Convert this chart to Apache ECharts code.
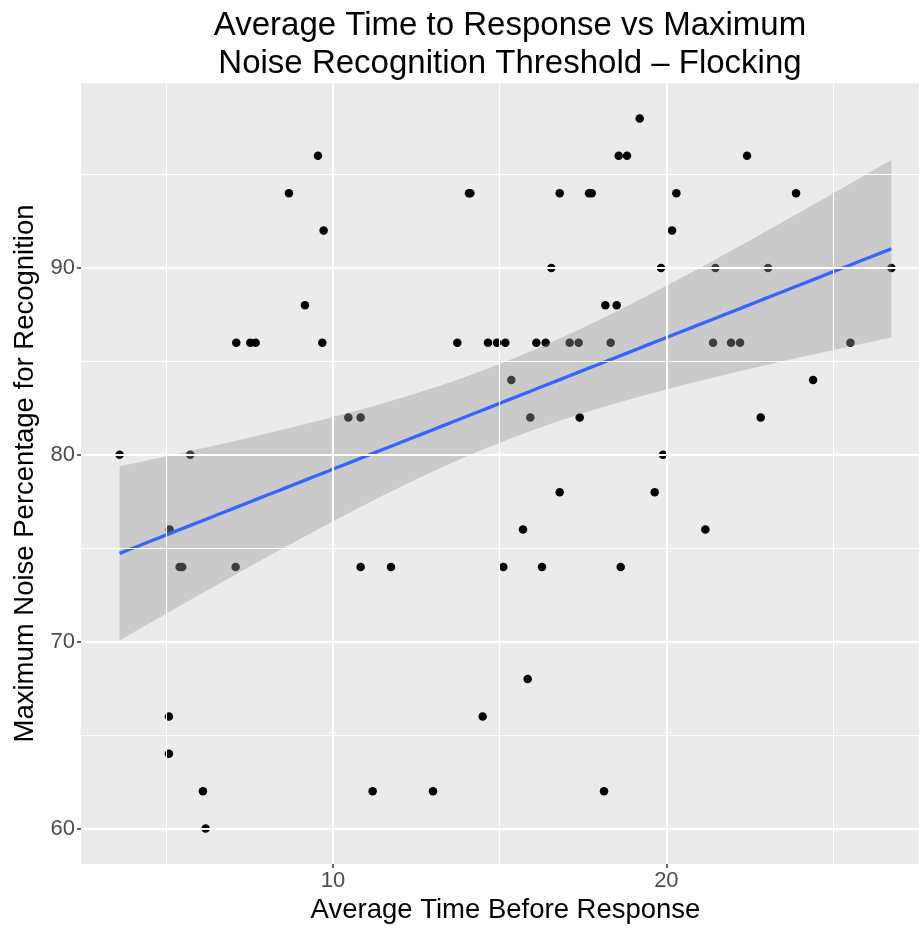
<!DOCTYPE html>
<html>
<head>
<meta charset="utf-8">
<title>Average Time to Response vs Maximum Noise Recognition Threshold – Flocking</title>
<script src="https://cdn.jsdelivr.net/npm/echarts@6/dist/echarts.min.js"></script>
<style>
  html, body { margin: 0; padding: 0; background: #ffffff; }
  #chart { width: 919px; height: 928px; }
</style>
</head>
<body>
<div id="chart"></div>
<script>
// Average time before response (x) and maximum noise percentage (y), one entry per run
const responseTime = [
  9.55, 8.68, 9.72, 9.16, 7.10, 7.52, 7.68, 9.68, 10.46, 10.83,
  3.60, 5.72, 5.10, 5.40, 5.48, 7.08, 10.83, 5.08, 5.08, 6.10,
  6.18, 11.19, 19.20, 18.57, 18.82, 14.08, 14.12, 16.80, 17.68, 17.76,
  20.30, 20.17, 16.55, 19.84, 18.17, 18.51, 13.73, 14.65, 14.92, 15.17,
  16.10, 16.38, 17.10, 17.37, 18.33, 15.35, 15.92, 17.40, 19.90, 16.80,
  19.65, 15.70, 11.74, 15.11, 16.27, 18.63, 15.84, 14.49, 13.00, 18.13,
  22.42, 23.89, 21.47, 23.05, 26.75, 21.40, 21.94, 22.21, 25.52, 24.40,
  22.83, 21.17
];
const noiseThreshold = [
  96, 94, 92, 88, 86, 86, 86, 86, 82, 82,
  80, 80, 76, 74, 74, 74, 74, 66, 64, 62,
  60, 62, 98, 96, 96, 94, 94, 94, 94, 94,
  94, 92, 90, 90, 88, 88, 86, 86, 86, 86,
  86, 86, 86, 86, 86, 84, 82, 82, 80, 78,
  78, 76, 74, 74, 74, 74, 68, 66, 62, 62,
  96, 94, 90, 90, 90, 86, 86, 86, 86, 84,
  82, 76
];

// Axis breaks
const xMajorTicks = [10, 20];
const xMinorTicks = [5, 15, 25];
const yMajorTicks = [60, 70, 80, 90];
const yMinorTicks = [65, 75, 85, 95];

// Labels
const titleText = 'Average Time to Response vs Maximum\nNoise Recognition Threshold \u2013 Flocking';
const xTitle = 'Average Time Before Response';
const yTitle = 'Maximum Noise Percentage for Recognition';

// ---- least-squares fit with a 95% confidence band ----
const n = responseTime.length;
const xbar = responseTime.reduce((a, b) => a + b, 0) / n;
const ybar = noiseThreshold.reduce((a, b) => a + b, 0) / n;
let sxx = 0, sxy = 0;
for (let i = 0; i < n; i++) {
  sxx += (responseTime[i] - xbar) ** 2;
  sxy += (responseTime[i] - xbar) * (noiseThreshold[i] - ybar);
}
const slope = sxy / sxx;
const intercept = ybar - slope * xbar;
let sse = 0;
for (let i = 0; i < n; i++) {
  const r = noiseThreshold[i] - (intercept + slope * responseTime[i]);
  sse += r * r;
}
const sigma = Math.sqrt(sse / (n - 2));
const tCrit = 1.994; // two-sided 95% Student t quantile, n - 2 degrees of freedom

const xLo = Math.min(...responseTime), xHi = Math.max(...responseTime);
const yLo = Math.min(...noiseThreshold), yHi = Math.max(...noiseThreshold);

const fitLine = [];
const band = [];
const steps = 80;
for (let k = 0; k < steps; k++) {
  const x = xLo + (xHi - xLo) * k / (steps - 1);
  const yhat = intercept + slope * x;
  const se = sigma * Math.sqrt(1 / n + (x - xbar) ** 2 / sxx);
  fitLine.push([x, yhat]);
  band.push([x, yhat - tCrit * se, yhat + tCrit * se]);
}

// 5% padding around the data range on both axes
const xPad = 0.05 * (xHi - xLo), yPad = 0.05 * (yHi - yLo);

const points = responseTime.map((x, i) => [x, noiseThreshold[i]]);

const gridLines = (vals, key, width) => vals.map(v => ({
  [key]: v, lineStyle: { color: '#ffffff', width: width, type: 'solid' }
}));

const FONT = 'Liberation Sans, Arial, Helvetica, sans-serif';

const chart = echarts.init(document.getElementById('chart'), null, { renderer: 'canvas' });
chart.setOption({
  animation: false,
  backgroundColor: '#ffffff',
  title: {
    text: titleText,
    left: 505,
    textAlign: 'center',
    top: 2,
    textStyle: { fontFamily: FONT, fontSize: 33, fontWeight: 'normal', color: '#000000', lineHeight: 38 }
  },
  grid: {
    // the panel runs on a little past the right edge of the canvas
    left: 81, top: 83, width: 849, height: 781,
    outerBoundsMode: 'none',
    containLabel: false,
    show: true, backgroundColor: '#EBEBEB', borderWidth: 0
  },
  xAxis: {
    type: 'value',
    min: xLo - xPad, max: xHi + xPad,
    name: xTitle, nameLocation: 'middle', nameGap: 32,
    nameTextStyle: { fontFamily: FONT, fontSize: 27.5, color: '#000000' },
    axisLine: { show: false },
    axisTick: { show: true, length: 4, lineStyle: { color: '#333333', width: 1.5 }, customValues: xMajorTicks },
    axisLabel: { customValues: xMajorTicks, fontFamily: FONT, fontSize: 22, color: '#4D4D4D', margin: 6 },
    splitLine: { show: false }
  },
  yAxis: {
    type: 'value',
    min: yLo - yPad, max: yHi + yPad,
    name: yTitle, nameLocation: 'middle', nameGap: 29,
    nameTextStyle: { fontFamily: FONT, fontSize: 27.5, color: '#000000' },
    axisLine: { show: false },
    axisTick: { show: true, length: 4, lineStyle: { color: '#333333', width: 1.5 }, customValues: yMajorTicks },
    axisLabel: { customValues: yMajorTicks, fontFamily: FONT, fontSize: 22, color: '#4D4D4D', margin: 6 },
    splitLine: { show: false }
  },
  series: [
    {
      // panel grid lines
      type: 'line',
      data: [],
      z: 1,
      silent: true,
      markLine: {
        silent: true,
        symbol: 'none',
        label: { show: false },
        animation: false,
        data: [
          ...gridLines(xMinorTicks, 'xAxis', 1.1),
          ...gridLines(yMinorTicks, 'yAxis', 1.1),
          ...gridLines(xMajorTicks, 'xAxis', 2.1),
          ...gridLines(yMajorTicks, 'yAxis', 2.1)
        ]
      }
    },
    {
      type: 'scatter',
      data: points,
      symbol: 'circle',
      symbolSize: 8.5,
      itemStyle: { color: '#000000', opacity: 1 },
      z: 2
    },
    {
      // confidence band
      type: 'custom',
      data: band,
      z: 3,
      silent: true,
      renderItem: function (params, api) {
        if (params.dataIndex !== 0) return null;
        const pts = [];
        for (let k = 0; k < band.length; k++) pts.push(api.coord([band[k][0], band[k][1]]));
        for (let k = band.length - 1; k >= 0; k--) pts.push(api.coord([band[k][0], band[k][2]]));
        return {
          type: 'polygon',
          shape: { points: pts },
          style: { fill: 'rgba(153,153,153,0.4)', stroke: 'none' }
        };
      },
      encode: { x: 0, y: [1, 2] }
    },
    {
      type: 'line',
      data: fitLine,
      showSymbol: false,
      symbol: 'none',
      lineStyle: { color: '#3366FF', width: 3.3 },
      z: 4,
      silent: true
    }
  ]
});
</script>
</body>
</html>
